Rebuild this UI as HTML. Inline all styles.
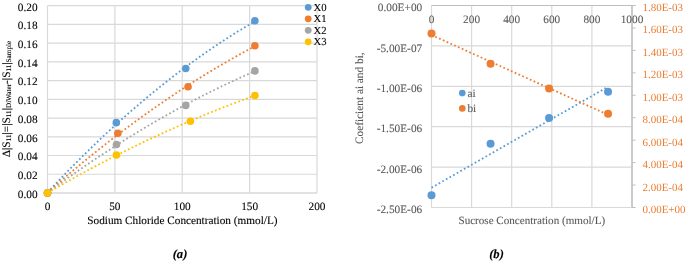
<!DOCTYPE html>
<html><head><meta charset="utf-8"><style>
html,body{margin:0;padding:0;background:#fff;width:685px;height:262px;overflow:hidden}
svg{display:block}
text{font-family:"Liberation Serif",serif}
</style></head><body>
<svg width="685" height="262" viewBox="0 0 685 262" font-family="Liberation Serif, serif" text-rendering="geometricPrecision">
<g style="filter:blur(0px)">
<line x1="47.5" y1="174.26" x2="317.0" y2="174.26" stroke="#D9D9D9" stroke-width="1.2"/>
<line x1="47.5" y1="155.52" x2="317.0" y2="155.52" stroke="#D9D9D9" stroke-width="1.2"/>
<line x1="47.5" y1="136.78" x2="317.0" y2="136.78" stroke="#D9D9D9" stroke-width="1.2"/>
<line x1="47.5" y1="118.04" x2="317.0" y2="118.04" stroke="#D9D9D9" stroke-width="1.2"/>
<line x1="47.5" y1="99.30" x2="317.0" y2="99.30" stroke="#D9D9D9" stroke-width="1.2"/>
<line x1="47.5" y1="80.56" x2="317.0" y2="80.56" stroke="#D9D9D9" stroke-width="1.2"/>
<line x1="47.5" y1="61.82" x2="317.0" y2="61.82" stroke="#D9D9D9" stroke-width="1.2"/>
<line x1="47.5" y1="43.08" x2="317.0" y2="43.08" stroke="#D9D9D9" stroke-width="1.2"/>
<line x1="47.5" y1="24.34" x2="317.0" y2="24.34" stroke="#D9D9D9" stroke-width="1.2"/>
<line x1="47.5" y1="5.60" x2="317.0" y2="5.60" stroke="#D9D9D9" stroke-width="1.2"/>
<line x1="47.50" y1="5.6" x2="47.50" y2="193.0" stroke="#D9D9D9" stroke-width="1.2"/>
<line x1="114.88" y1="5.6" x2="114.88" y2="193.0" stroke="#D9D9D9" stroke-width="1.2"/>
<line x1="182.25" y1="5.6" x2="182.25" y2="193.0" stroke="#D9D9D9" stroke-width="1.2"/>
<line x1="249.62" y1="5.6" x2="249.62" y2="193.0" stroke="#D9D9D9" stroke-width="1.2"/>
<line x1="317.00" y1="5.6" x2="317.00" y2="193.0" stroke="#D9D9D9" stroke-width="1.2"/>
<line x1="47.5" y1="193.0" x2="317.0" y2="193.0" stroke="#D9D9D9" stroke-width="1.6"/>
<text x="37.6" y="197.90" text-anchor="end" font-size="11.3" fill="#000000" stroke="#000000" stroke-width="0.1">0.00</text>
<text x="37.6" y="179.16" text-anchor="end" font-size="11.3" fill="#000000" stroke="#000000" stroke-width="0.1">0.02</text>
<text x="37.6" y="160.42" text-anchor="end" font-size="11.3" fill="#000000" stroke="#000000" stroke-width="0.1">0.04</text>
<text x="37.6" y="141.68" text-anchor="end" font-size="11.3" fill="#000000" stroke="#000000" stroke-width="0.1">0.06</text>
<text x="37.6" y="122.94" text-anchor="end" font-size="11.3" fill="#000000" stroke="#000000" stroke-width="0.1">0.08</text>
<text x="37.6" y="104.20" text-anchor="end" font-size="11.3" fill="#000000" stroke="#000000" stroke-width="0.1">0.10</text>
<text x="37.6" y="85.46" text-anchor="end" font-size="11.3" fill="#000000" stroke="#000000" stroke-width="0.1">0.12</text>
<text x="37.6" y="66.72" text-anchor="end" font-size="11.3" fill="#000000" stroke="#000000" stroke-width="0.1">0.14</text>
<text x="37.6" y="47.98" text-anchor="end" font-size="11.3" fill="#000000" stroke="#000000" stroke-width="0.1">0.16</text>
<text x="37.6" y="29.24" text-anchor="end" font-size="11.3" fill="#000000" stroke="#000000" stroke-width="0.1">0.18</text>
<text x="37.6" y="10.50" text-anchor="end" font-size="11.3" fill="#000000" stroke="#000000" stroke-width="0.1">0.20</text>
<text x="47.50" y="210.2" text-anchor="middle" font-size="11.3" fill="#000000" stroke="#000000" stroke-width="0.1">0</text>
<text x="114.88" y="210.2" text-anchor="middle" font-size="11.3" fill="#000000" stroke="#000000" stroke-width="0.1">50</text>
<text x="182.25" y="210.2" text-anchor="middle" font-size="11.3" fill="#000000" stroke="#000000" stroke-width="0.1">100</text>
<text x="249.62" y="210.2" text-anchor="middle" font-size="11.3" fill="#000000" stroke="#000000" stroke-width="0.1">150</text>
<text x="317.00" y="210.2" text-anchor="middle" font-size="11.3" fill="#000000" stroke="#000000" stroke-width="0.1">200</text>
<text x="182.4" y="223.7" text-anchor="middle" font-size="11.25" fill="#000000" stroke="#000000" stroke-width="0.1">Sodium Chloride Concentration (mmol/L)</text>
<text transform="translate(9.6,99.0) rotate(-90)" text-anchor="middle" font-size="11.3" fill="#000000" stroke="#000000" stroke-width="0.1">&#916;|S<tspan font-size="7.2" dy="1">11</tspan><tspan dy="-1">|=|S</tspan><tspan font-size="7.2" dy="1">11</tspan><tspan dy="-1">|</tspan><tspan font-size="7.2" dy="1">DiWater</tspan><tspan dy="-1">-|S</tspan><tspan font-size="7.2" dy="1">11</tspan><tspan dy="-1">|</tspan><tspan font-size="7.2" dy="1">Sample</tspan></text>
<path d="M47.50,192.45 L51.01,188.69 L54.53,184.96 L58.04,181.27 L61.56,177.60 L65.07,173.96 L68.59,170.35 L72.10,166.77 L75.62,163.22 L79.13,159.70 L82.65,156.20 L86.16,152.74 L89.68,149.31 L93.19,145.91 L96.71,142.53 L100.22,139.19 L103.74,135.87 L107.25,132.59 L110.77,129.33 L114.28,126.11 L117.80,122.91 L121.31,119.75 L124.83,116.61 L128.34,113.50 L131.86,110.42 L135.37,107.38 L138.89,104.36 L142.40,101.37 L145.92,98.41 L149.43,95.48 L152.95,92.58 L156.46,89.71 L159.98,86.87 L163.49,84.05 L167.01,81.27 L170.52,78.52 L174.04,75.80 L177.55,73.10 L181.07,70.44 L184.58,67.80 L188.10,65.20 L191.61,62.62 L195.13,60.08 L198.64,57.56 L202.16,55.08 L205.67,52.62 L209.19,50.19 L212.70,47.79 L216.22,45.43 L219.73,43.09 L223.25,40.78 L226.76,38.50 L230.28,36.25 L233.79,34.03 L237.31,31.84 L240.82,29.68 L244.34,27.54 L247.85,25.44 L251.37,23.37 L254.88,21.33" fill="none" stroke="#5B9BD5" stroke-dasharray="1.75 2.4" stroke-width="1.8"/>
<path d="M47.50,192.55 L51.01,189.46 L54.53,186.39 L58.04,183.34 L61.56,180.31 L65.07,177.30 L68.59,174.31 L72.10,171.35 L75.62,168.40 L79.13,165.48 L82.65,162.58 L86.16,159.69 L89.68,156.83 L93.19,153.99 L96.71,151.18 L100.22,148.38 L103.74,145.60 L107.25,142.85 L110.77,140.11 L114.28,137.40 L117.80,134.71 L121.31,132.04 L124.83,129.39 L128.34,126.76 L131.86,124.16 L135.37,121.57 L138.89,119.00 L142.40,116.46 L145.92,113.94 L149.43,111.44 L152.95,108.96 L156.46,106.50 L159.98,104.06 L163.49,101.64 L167.01,99.24 L170.52,96.87 L174.04,94.51 L177.55,92.18 L181.07,89.87 L184.58,87.58 L188.10,85.31 L191.61,83.06 L195.13,80.83 L198.64,78.63 L202.16,76.44 L205.67,74.28 L209.19,72.13 L212.70,70.01 L216.22,67.91 L219.73,65.83 L223.25,63.77 L226.76,61.73 L230.28,59.72 L233.79,57.72 L237.31,55.75 L240.82,53.79 L244.34,51.86 L247.85,49.95 L251.37,48.06 L254.88,46.19" fill="none" stroke="#ED7D31" stroke-dasharray="1.75 2.4" stroke-width="1.8"/>
<path d="M47.50,192.74 L51.01,190.15 L54.53,187.58 L58.04,185.03 L61.56,182.49 L65.07,179.97 L68.59,177.47 L72.10,174.99 L75.62,172.53 L79.13,170.08 L82.65,167.66 L86.16,165.25 L89.68,162.86 L93.19,160.49 L96.71,158.14 L100.22,155.80 L103.74,153.48 L107.25,151.19 L110.77,148.91 L114.28,146.64 L117.80,144.40 L121.31,142.18 L124.83,139.97 L128.34,137.78 L131.86,135.61 L135.37,133.46 L138.89,131.32 L142.40,129.21 L145.92,127.11 L149.43,125.03 L152.95,122.97 L156.46,120.93 L159.98,118.91 L163.49,116.90 L167.01,114.91 L170.52,112.94 L174.04,110.99 L177.55,109.06 L181.07,107.15 L184.58,105.25 L188.10,103.37 L191.61,101.51 L195.13,99.67 L198.64,97.85 L202.16,96.04 L205.67,94.26 L209.19,92.49 L212.70,90.74 L216.22,89.01 L219.73,87.29 L223.25,85.60 L226.76,83.92 L230.28,82.26 L233.79,80.62 L237.31,79.00 L240.82,77.40 L244.34,75.81 L247.85,74.24 L251.37,72.70 L254.88,71.17" fill="none" stroke="#A5A5A5" stroke-dasharray="1.75 2.4" stroke-width="1.8"/>
<path d="M47.50,192.86 L51.01,190.83 L54.53,188.81 L58.04,186.80 L61.56,184.80 L65.07,182.82 L68.59,180.85 L72.10,178.90 L75.62,176.96 L79.13,175.03 L82.65,173.11 L86.16,171.21 L89.68,169.32 L93.19,167.45 L96.71,165.59 L100.22,163.74 L103.74,161.90 L107.25,160.08 L110.77,158.27 L114.28,156.48 L117.80,154.70 L121.31,152.93 L124.83,151.17 L128.34,149.43 L131.86,147.70 L135.37,145.99 L138.89,144.29 L142.40,142.60 L145.92,140.92 L149.43,139.26 L152.95,137.61 L156.46,135.98 L159.98,134.36 L163.49,132.75 L167.01,131.15 L170.52,129.57 L174.04,128.00 L177.55,126.45 L181.07,124.91 L184.58,123.38 L188.10,121.86 L191.61,120.36 L195.13,118.87 L198.64,117.40 L202.16,115.94 L205.67,114.49 L209.19,113.05 L212.70,111.63 L216.22,110.22 L219.73,108.83 L223.25,107.45 L226.76,106.08 L230.28,104.72 L233.79,103.38 L237.31,102.05 L240.82,100.74 L244.34,99.44 L247.85,98.15 L251.37,96.87 L254.88,95.61" fill="none" stroke="#FFC000" stroke-dasharray="1.75 2.4" stroke-width="1.8"/>
<circle cx="47.50" cy="193.00" r="3.8" fill="#5B9BD5"/>
<circle cx="116.30" cy="122.63" r="3.8" fill="#5B9BD5"/>
<circle cx="185.75" cy="68.57" r="3.8" fill="#5B9BD5"/>
<circle cx="254.88" cy="20.78" r="3.8" fill="#5B9BD5"/>
<circle cx="47.50" cy="193.00" r="3.8" fill="#ED7D31"/>
<circle cx="117.84" cy="133.31" r="3.8" fill="#ED7D31"/>
<circle cx="188.04" cy="86.74" r="3.8" fill="#ED7D31"/>
<circle cx="254.88" cy="45.70" r="3.8" fill="#ED7D31"/>
<circle cx="47.50" cy="193.00" r="3.8" fill="#A5A5A5"/>
<circle cx="116.49" cy="144.46" r="3.8" fill="#A5A5A5"/>
<circle cx="185.75" cy="105.39" r="3.8" fill="#A5A5A5"/>
<circle cx="254.88" cy="70.91" r="3.8" fill="#A5A5A5"/>
<circle cx="47.50" cy="193.00" r="3.8" fill="#FFC000"/>
<circle cx="116.49" cy="154.96" r="3.8" fill="#FFC000"/>
<circle cx="190.34" cy="121.32" r="3.8" fill="#FFC000"/>
<circle cx="254.88" cy="95.46" r="3.8" fill="#FFC000"/>
<circle cx="308.2" cy="7.30" r="3.4" fill="#5B9BD5"/>
<text x="313.5" y="10.80" font-size="10.7" fill="#000000" stroke="#000000" stroke-width="0.1">X0</text>
<circle cx="308.2" cy="18.80" r="3.4" fill="#ED7D31"/>
<text x="313.5" y="22.30" font-size="10.7" fill="#000000" stroke="#000000" stroke-width="0.1">X1</text>
<circle cx="308.2" cy="30.30" r="3.4" fill="#A5A5A5"/>
<text x="313.5" y="33.80" font-size="10.7" fill="#000000" stroke="#000000" stroke-width="0.1">X2</text>
<circle cx="308.2" cy="41.80" r="3.4" fill="#FFC000"/>
<text x="313.5" y="45.30" font-size="10.7" fill="#000000" stroke="#000000" stroke-width="0.1">X3</text>
<text x="180" y="258.3" text-anchor="middle" font-size="12.6" font-weight="bold" font-style="italic" fill="#000" stroke="#000" stroke-width="0.1">(a)</text>
<line x1="431.5" y1="45.90" x2="632.0" y2="45.90" stroke="#D9D9D9" stroke-width="1.2"/>
<line x1="431.5" y1="86.30" x2="632.0" y2="86.30" stroke="#D9D9D9" stroke-width="1.2"/>
<line x1="431.5" y1="126.70" x2="632.0" y2="126.70" stroke="#D9D9D9" stroke-width="1.2"/>
<line x1="431.5" y1="167.10" x2="632.0" y2="167.10" stroke="#D9D9D9" stroke-width="1.2"/>
<line x1="431.5" y1="207.50" x2="632.0" y2="207.50" stroke="#D9D9D9" stroke-width="1.2"/>
<line x1="431.50" y1="5.5" x2="431.50" y2="207.5" stroke="#D9D9D9" stroke-width="1.2"/>
<line x1="471.60" y1="5.5" x2="471.60" y2="207.5" stroke="#D9D9D9" stroke-width="1.2"/>
<line x1="511.70" y1="5.5" x2="511.70" y2="207.5" stroke="#D9D9D9" stroke-width="1.2"/>
<line x1="551.80" y1="5.5" x2="551.80" y2="207.5" stroke="#D9D9D9" stroke-width="1.2"/>
<line x1="591.90" y1="5.5" x2="591.90" y2="207.5" stroke="#D9D9D9" stroke-width="1.2"/>
<line x1="632.00" y1="5.5" x2="632.00" y2="207.5" stroke="#D9D9D9" stroke-width="1.2"/>
<line x1="431.5" y1="5.5" x2="635.6" y2="5.5" stroke="#BFBFBF" stroke-width="1.2"/>
<line x1="632.0" y1="5.5" x2="632.0" y2="207.5" stroke="#BFBFBF" stroke-width="1.4"/>
<line x1="632.0" y1="207.50" x2="635.6" y2="207.50" stroke="#BFBFBF" stroke-width="1"/>
<line x1="632.0" y1="185.06" x2="635.6" y2="185.06" stroke="#BFBFBF" stroke-width="1"/>
<line x1="632.0" y1="162.61" x2="635.6" y2="162.61" stroke="#BFBFBF" stroke-width="1"/>
<line x1="632.0" y1="140.17" x2="635.6" y2="140.17" stroke="#BFBFBF" stroke-width="1"/>
<line x1="632.0" y1="117.72" x2="635.6" y2="117.72" stroke="#BFBFBF" stroke-width="1"/>
<line x1="632.0" y1="95.28" x2="635.6" y2="95.28" stroke="#BFBFBF" stroke-width="1"/>
<line x1="632.0" y1="72.83" x2="635.6" y2="72.83" stroke="#BFBFBF" stroke-width="1"/>
<line x1="632.0" y1="50.39" x2="635.6" y2="50.39" stroke="#BFBFBF" stroke-width="1"/>
<line x1="632.0" y1="27.94" x2="635.6" y2="27.94" stroke="#BFBFBF" stroke-width="1"/>
<line x1="632.0" y1="5.50" x2="635.6" y2="5.50" stroke="#BFBFBF" stroke-width="1"/>
<text x="422.2" y="11.10" text-anchor="end" font-size="11.3" fill="#595959" stroke="#595959" stroke-width="0.1">0.00E+00</text>
<text x="422.2" y="51.50" text-anchor="end" font-size="11.3" fill="#595959" stroke="#595959" stroke-width="0.1">-5.00E-07</text>
<text x="422.2" y="91.90" text-anchor="end" font-size="11.3" fill="#595959" stroke="#595959" stroke-width="0.1">-1.00E-06</text>
<text x="422.2" y="132.30" text-anchor="end" font-size="11.3" fill="#595959" stroke="#595959" stroke-width="0.1">-1.50E-06</text>
<text x="422.2" y="172.70" text-anchor="end" font-size="11.3" fill="#595959" stroke="#595959" stroke-width="0.1">-2.00E-06</text>
<text x="422.2" y="213.10" text-anchor="end" font-size="11.3" fill="#595959" stroke="#595959" stroke-width="0.1">-2.50E-06</text>
<text x="642.4" y="213.00" font-size="11.0" fill="#ED7D31" class="o">0.00E+00</text>
<text x="642.4" y="190.56" font-size="11.0" fill="#ED7D31" class="o">2.00E-04</text>
<text x="642.4" y="168.11" font-size="11.0" fill="#ED7D31" class="o">4.00E-04</text>
<text x="642.4" y="145.67" font-size="11.0" fill="#ED7D31" class="o">6.00E-04</text>
<text x="642.4" y="123.22" font-size="11.0" fill="#ED7D31" class="o">8.00E-04</text>
<text x="642.4" y="100.78" font-size="11.0" fill="#ED7D31" class="o">1.00E-03</text>
<text x="642.4" y="78.33" font-size="11.0" fill="#ED7D31" class="o">1.20E-03</text>
<text x="642.4" y="55.89" font-size="11.0" fill="#ED7D31" class="o">1.40E-03</text>
<text x="642.4" y="33.44" font-size="11.0" fill="#ED7D31" class="o">1.60E-03</text>
<text x="642.4" y="11.00" font-size="11.0" fill="#ED7D31" class="o">1.80E-03</text>
<text x="431.50" y="22.9" text-anchor="middle" font-size="11.3" fill="#595959" stroke="#595959" stroke-width="0.1">0</text>
<text x="471.60" y="22.9" text-anchor="middle" font-size="11.3" fill="#595959" stroke="#595959" stroke-width="0.1">200</text>
<text x="511.70" y="22.9" text-anchor="middle" font-size="11.3" fill="#595959" stroke="#595959" stroke-width="0.1">400</text>
<text x="551.80" y="22.9" text-anchor="middle" font-size="11.3" fill="#595959" stroke="#595959" stroke-width="0.1">600</text>
<text x="591.90" y="22.9" text-anchor="middle" font-size="11.3" fill="#595959" stroke="#595959" stroke-width="0.1">800</text>
<text x="632.00" y="22.9" text-anchor="middle" font-size="11.3" fill="#595959" stroke="#595959" stroke-width="0.1">1000</text>
<text x="531.8" y="223.6" text-anchor="middle" font-size="11.1" fill="#595959" stroke="#595959" stroke-width="0.1">Sucrose Concentration (mmol/L)</text>
<text transform="translate(362.5,98.2) rotate(-90)" text-anchor="middle" font-size="11.3" fill="#595959" stroke="#595959" stroke-width="0.1">Coeficient ai and bi,</text>
<line x1="431.50" y1="187.72" x2="608.04" y2="86.72" stroke="#5B9BD5" stroke-dasharray="1.75 2.4" stroke-width="1.8"/>
<line x1="431.50" y1="35.02" x2="608.04" y2="114.80" stroke="#ED7D31" stroke-dasharray="1.75 2.4" stroke-width="1.8"/>
<circle cx="431.50" cy="195.30" r="4" fill="#5B9BD5"/>
<circle cx="490.55" cy="143.83" r="4" fill="#5B9BD5"/>
<circle cx="549.09" cy="117.89" r="4" fill="#5B9BD5"/>
<circle cx="608.04" cy="91.79" r="4" fill="#5B9BD5"/>
<circle cx="431.50" cy="33.44" r="4" fill="#ED7D31"/>
<circle cx="490.55" cy="63.86" r="4" fill="#ED7D31"/>
<circle cx="549.09" cy="88.60" r="4" fill="#ED7D31"/>
<circle cx="608.04" cy="113.79" r="4" fill="#ED7D31"/>
<circle cx="462.3" cy="93.1" r="3.3" fill="#5B9BD5"/>
<text x="467.4" y="96.8" font-size="11.3" fill="#595959" stroke="#595959" stroke-width="0.1">ai</text>
<circle cx="462.3" cy="108.4" r="3.3" fill="#ED7D31"/>
<text x="467.4" y="112.1" font-size="11.3" fill="#595959" stroke="#595959" stroke-width="0.1">bi</text>
<text x="496.5" y="258.3" text-anchor="middle" font-size="12.6" font-weight="bold" font-style="italic" fill="#000" stroke="#000" stroke-width="0.1">(b)</text>
</g>
</svg>
</body></html>
